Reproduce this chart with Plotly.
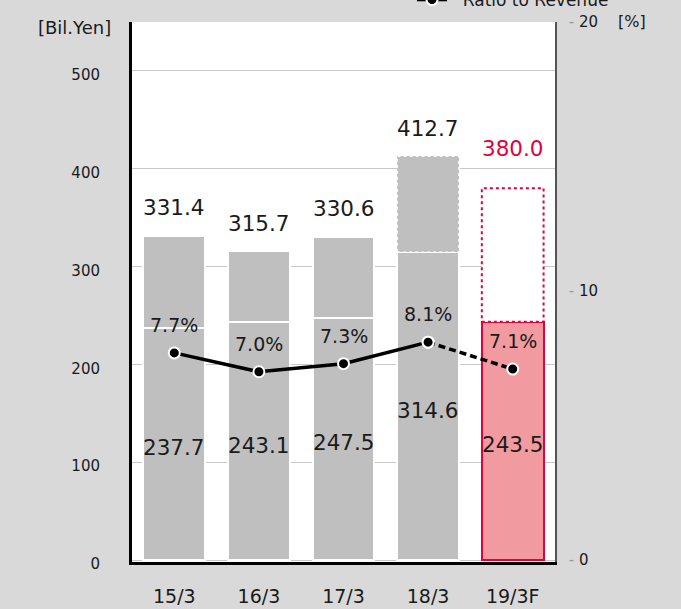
import plotly.graph_objects as go

categories = ["15/3", "16/3", "17/3", "18/3", "19/3F"]
lower_values = [237.7, 243.1, 247.5, 314.6, 243.5]
total_values = [331.4, 315.7, 330.6, 412.7, 380.0]
ratio_values = [7.7, 7.0, 7.3, 8.1, 7.1]
left_ticks = [0, 100, 200, 300, 400, 500]
right_ticks = [0, 10, 20]

FONT = "DejaVu Sans"
GRAY = "#bfbfbf"
PINK = "#f19aa0"
CRIMSON = "#e4003b"
TXT = "#1a1a1a"
BAR_W = 0.73

idx = list(range(len(categories)))
upper_values = [round(t - b, 1) for t, b in zip(total_values, lower_values)]
n = len(categories)
fc = n - 1  # forecast index

fig = go.Figure()

fig.add_trace(go.Bar(
    x=idx, y=lower_values, width=BAR_W,
    marker=dict(color=[GRAY] * fc + [PINK],
                line=dict(color=["white"] * fc + [CRIMSON], width=2)),
    showlegend=False, hoverinfo="skip"))

fig.add_trace(go.Bar(
    x=idx, y=upper_values, width=BAR_W,
    marker=dict(color=[GRAY] * fc + ["white"],
                line=dict(color="white", width=[2] * (fc - 1) + [0, 0])),
    showlegend=False, hoverinfo="skip"))

fig.add_trace(go.Scatter(
    x=idx[:fc], y=ratio_values[:fc], yaxis="y2", mode="lines+markers",
    name="&nbsp;&nbsp;Ratio to Revenue",
    line=dict(color="black", width=3.5),
    marker=dict(color="black", size=11, line=dict(color="white", width=2)),
    hoverinfo="skip"))

fig.add_trace(go.Scatter(
    x=idx[fc - 1:], y=ratio_values[fc - 1:], yaxis="y2", mode="lines+markers",
    line=dict(color="black", width=3.5, dash="7px,4px"),
    marker=dict(color="black", size=11, line=dict(color="white", width=2)),
    showlegend=False, hoverinfo="skip"))

shapes = []
for i, col, w in [(fc - 1, "white", 1.5), (fc, CRIMSON, 2)]:
    shapes.append(dict(type="rect", xref="x", yref="y",
                       x0=idx[i] - BAR_W / 2, x1=idx[i] + BAR_W / 2,
                       y0=lower_values[i], y1=total_values[i],
                       line=dict(color=col, width=w, dash="dot"),
                       fillcolor="rgba(0,0,0,0)", layer="above"))

annotations = []
for i in idx:
    color = CRIMSON if i == fc else TXT
    annotations.append(dict(x=idx[i], y=total_values[i], xref="x", yref="y",
                            text=f"{total_values[i]:.1f}", showarrow=False,
                            yshift=40 if i == fc else 28,
                            font=dict(family=FONT, size=21.5, color=color)))
    annotations.append(dict(x=idx[i], y=lower_values[i] * 0.5, xref="x", yref="y",
                            text=f"{lower_values[i]:.1f}", showarrow=False,
                            yshift=-4,
                            font=dict(family=FONT, size=21.5, color=TXT)))
    annotations.append(dict(x=idx[i], y=ratio_values[i], xref="x", yref="y2",
                            text=f"{ratio_values[i]:.1f}%", showarrow=False,
                            yshift=28,
                            font=dict(family=FONT, size=19, color=TXT)))

annotations.append(dict(xref="paper", yref="paper", x=-0.045, y=1.0,
                        xanchor="right", yanchor="middle", yshift=-5,
                        text="[Bil.Yen]", showarrow=False,
                        font=dict(family=FONT, size=18, color=TXT)))
annotations.append(dict(xref="paper", yref="paper", x=1.145, y=1.0,
                        xanchor="left", yanchor="middle", yshift=1,
                        text="[%]", showarrow=False,
                        font=dict(family=FONT, size=16, color=TXT)))

fig.update_layout(
    width=681, height=609,
    margin=dict(l=132, r=126, t=22, b=47, autoexpand=False),
    paper_bgcolor="#d9d9d9", plot_bgcolor="white",
    barmode="stack", bargap=0.27,
    font=dict(family=FONT, color=TXT),
    shapes=shapes, annotations=annotations,
    showlegend=True,
    legend=dict(orientation="h", xref="container", yref="container",
                x=412 / 681, y=1.0, xanchor="left", yanchor="middle",
                bgcolor="rgba(0,0,0,0)", font=dict(family=FONT, size=17, color=TXT)),
    xaxis=dict(range=[-0.5, n - 0.5], tickvals=idx, ticktext=categories,
               showgrid=False, zeroline=False, showline=True, linewidth=3,
               linecolor="black", ticks="", ticklabelstandoff=15,
               tickfont=dict(family=FONT, size=19, color=TXT), fixedrange=True),
    yaxis=dict(range=[-2, 550], tickvals=left_ticks,
               showgrid=True, gridcolor="#c8c8c8", gridwidth=1,
               zeroline=False, showline=True, linewidth=3, linecolor="black",
               ticks="", ticklabelstandoff=26, ticklabelshift=4,
               tickfont=dict(family=FONT, size=15, color=TXT)),
    yaxis2=dict(range=[-2 * 20 / 550, 20], overlaying="y", side="right",
                tickvals=right_ticks,
                ticktext=[f"<span style='color:#9a9a9a'>-</span> {t}" for t in right_ticks],
                showgrid=False, zeroline=False, showline=True, linewidth=1.5,
                linecolor="#555555", ticks="", ticklabelstandoff=9,
                tickfont=dict(family=FONT, size=15, color=TXT)),
)

fig.write_html("out.html")
